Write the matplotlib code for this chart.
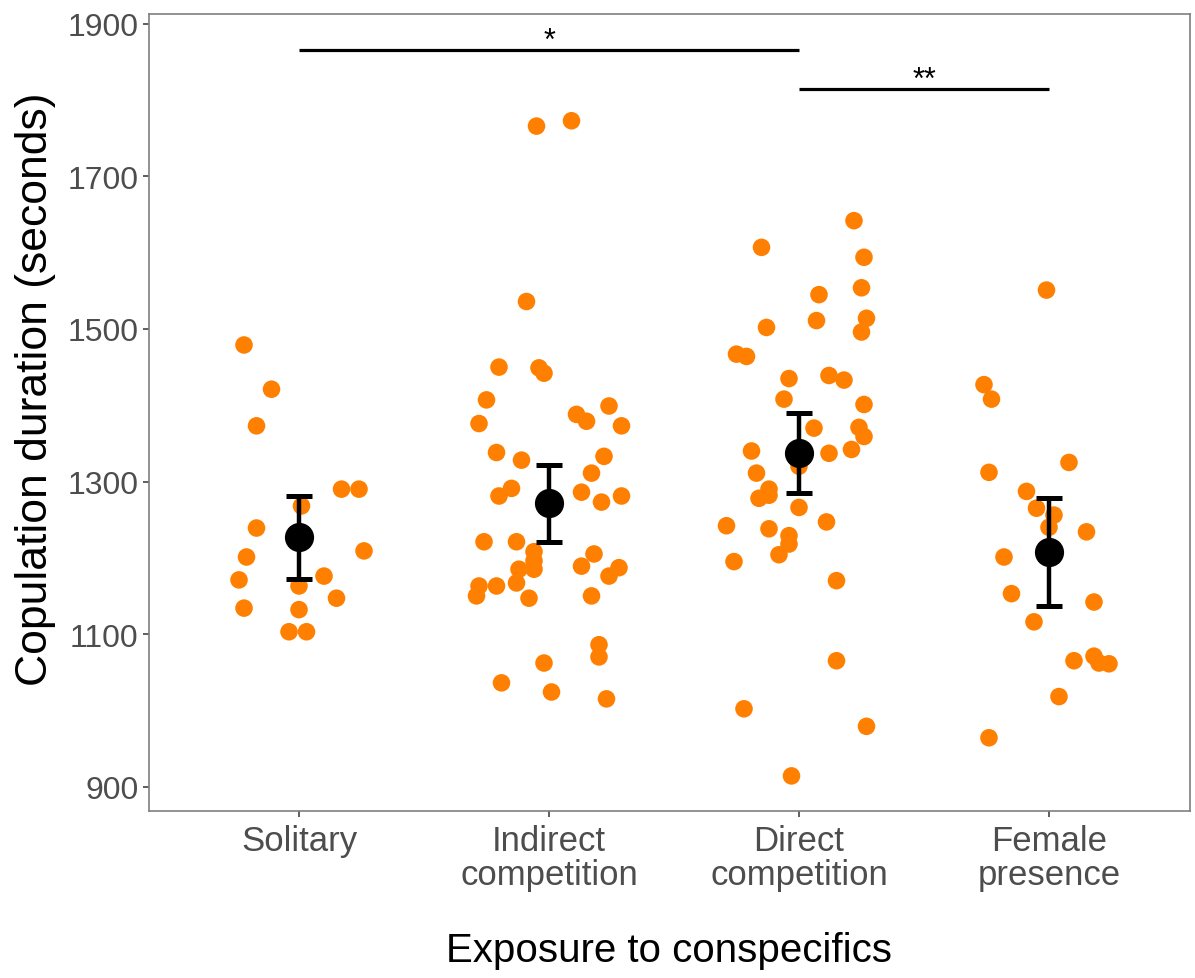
"""Copulation duration by exposure to conspecifics: jittered raw values with mean and 95% CI."""

import matplotlib

matplotlib.use("Agg")
import matplotlib.pyplot as plt
import numpy as np

plt.rcParams["font.family"] = ["Liberation Sans", "DejaVu Sans"]

categories = ["Solitary", "Indirect\ncompetition", "Direct\ncompetition", "Female\npresence"]

# raw copulation durations (s) and their horizontal jitter offsets per treatment
solitary = [1479, 1421, 1373, 1290, 1290, 1268, 1239, 1209, 1201, 1171, 1176, 1163,
            1147, 1134, 1132, 1103, 1103]
solitary_jit = [-0.22, -0.11, -0.17, 0.17, 0.24, 0.01, -0.17, 0.26, -0.21, -0.24, 0.10,
                0.00, 0.15, -0.22, 0.00, -0.04, 0.03]

indirect = [1766, 1773, 1536, 1450, 1449, 1442, 1407, 1376, 1388, 1379, 1399, 1373,
            1338, 1328, 1333, 1311, 1291, 1281, 1286, 1273, 1281, 1221, 1221, 1208,
            1196, 1185, 1185, 1205, 1189, 1187, 1176, 1163, 1150, 1163, 1167, 1147,
            1150, 1086, 1070, 1062, 1036, 1024, 1015]
indirect_jit = [-0.05, 0.09, -0.09, -0.20, -0.04, -0.02, -0.25, -0.28, 0.11, 0.15, 0.24,
                0.29, -0.21, -0.11, 0.22, 0.17, -0.15, -0.20, 0.13, 0.21, 0.29, -0.26,
                -0.13, -0.06, -0.06, -0.12, -0.06, 0.18, 0.13, 0.28, 0.24, -0.28, -0.29,
                -0.21, -0.13, -0.08, 0.17, 0.20, 0.20, -0.02, -0.19, 0.01, 0.23]

direct = [1642, 1607, 1594, 1554, 1545, 1511, 1514, 1496, 1502, 1467, 1464, 1435, 1439,
          1433, 1408, 1401, 1370, 1371, 1359, 1340, 1337, 1342, 1311, 1320, 1278, 1282,
          1290, 1266, 1242, 1238, 1247, 1229, 1218, 1204, 1195, 1170, 1065, 1002, 979,
          914]
direct_jit = [0.22, -0.15, 0.26, 0.25, 0.08, 0.07, 0.27, 0.25, -0.13, -0.25, -0.21,
              -0.04, 0.12, 0.18, -0.06, 0.26, 0.06, 0.24, 0.26, -0.19, 0.12, 0.21, -0.17,
              0.00, -0.16, -0.12, -0.12, 0.00, -0.29, -0.12, 0.11, -0.04, -0.04, -0.08,
              -0.26, 0.15, 0.15, -0.22, 0.27, -0.03]

female = [1551, 1427, 1408, 1325, 1312, 1287, 1265, 1256, 1240, 1234, 1201, 1153, 1142,
          1116, 1065, 1071, 1062, 1061, 1018, 964]
female_jit = [-0.01, -0.26, -0.23, 0.08, -0.24, -0.09, -0.05, 0.02, 0.00, 0.15, -0.18,
              -0.15, 0.18, -0.06, 0.10, 0.18, 0.20, 0.24, 0.04, -0.24]

# group means with lower / upper confidence limits
means = [1227, 1272, 1337, 1208]
ci_low = [1172, 1221, 1285, 1137]
ci_high = [1281, 1321, 1390, 1278]

# pairwise comparisons: (group a, group b, bar height, label)
comparisons = [(0, 2, 1866, "*"), (2, 3, 1815, "**")]

ORANGE = "#FF8000"
GREY_TEXT = "#4D4D4D"

fig = plt.figure(figsize=(11.95, 9.79), dpi=100)
ax = fig.add_axes([0.1247, 0.1706, 0.8711, 0.8141])

groups = [(solitary, solitary_jit), (indirect, indirect_jit),
          (direct, direct_jit), (female, female_jit)]
for i, (vals, jit) in enumerate(groups):
    ax.scatter(i + np.array(jit), vals, s=160, color=ORANGE, edgecolors="none", zorder=2)

pos = np.arange(len(categories))
means = np.array(means)
yerr = [means - np.array(ci_low), np.array(ci_high) - means]
ax.errorbar(pos, means, yerr=yerr, fmt="o", color="black", markersize=20,
            elinewidth=3.2, capsize=9.5, capthick=3.6, zorder=3)

for a, b, h, label in comparisons:
    ax.plot([a, b], [h, h], color="black", lw=2.3, solid_capstyle="butt", zorder=3)
    ax.text((a + b) / 2, h - 8, label, ha="center", va="bottom", fontsize=22,
            color="black")

ax.set_xlim(-0.6, 3.564)
ax.set_ylim(868, 1913)
ax.set_xticks(pos)
ax.set_xticklabels(categories, fontsize=25, color=GREY_TEXT, linespacing=1.05)
ax.set_yticks([900, 1100, 1300, 1500, 1700, 1900])
ax.tick_params(axis="y", labelsize=23, labelcolor=GREY_TEXT)
ax.tick_params(axis="both", color="#333333", length=4.5, width=1.1, direction="out")
ax.tick_params(axis="x", pad=5)
ax.tick_params(axis="y", pad=3)

for spine in ax.spines.values():
    spine.set_color("#7F7F7F")
    spine.set_linewidth(1.2)

ax.set_xlabel("Exposure to conspecifics", fontsize=29, color="black")
ax.xaxis.set_label_coords(0.5, -0.151)
ax.set_ylabel("Copulation duration (seconds)", fontsize=32, color="black")
ax.yaxis.set_label_coords(-0.089, 0.53)

fig.savefig("out.png", dpi=100, facecolor="white")
